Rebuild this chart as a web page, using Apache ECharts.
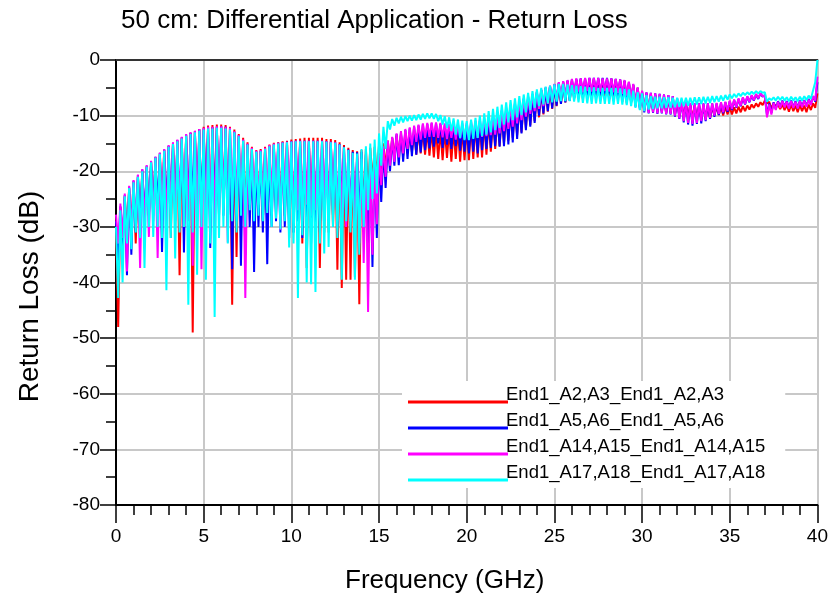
<!DOCTYPE html>
<html>
<head>
<meta charset="utf-8">
<script src="https://cdn.jsdelivr.net/npm/echarts@6/dist/echarts.min.js"></script>
<style>
html,body{margin:0;padding:0;background:#fff;}
#chart{width:831px;height:601px;}
</style>
</head>
<body>
<div id="chart"></div>
<script>
// Frequency sweep of the simulation (GHz): 0 to 40 GHz, step 0.125 GHz
const FREQ_START = 0;
const FREQ_STEP = 0.125;
const FREQ_POINTS = 321;
const xTicks = [0, 5, 10, 15, 20, 25, 30, 35, 40];
const yTicks = [0, -10, -20, -30, -40, -50, -60, -70, -80];

const seriesNames = [
  'End1_A2,A3_End1_A2,A3',
  'End1_A5,A6_End1_A5,A6',
  'End1_A14,A15_End1_A14,A15',
  'End1_A17,A18_End1_A17,A18'
];

// Return loss (dB), one value per sweep point (rows of 2 GHz)
const red = [
-30,-48,-26.5,-34,-24.5,-31,-23,-30,-22,-33,-21,-29,-20,-31,-19.2,-28,
-18.4,-27,-17.6,-30,-16.8,-26,-16.2,-29,-15.5,-32,-15,-27,-14.5,-38.7,-14,-28,
-13.5,-28,-13.1,-49,-12.8,-27,-12.4,-30,-12,-26,-11.8,-29,-11.7,-27,-11.6,-28,
-11.6,-27,-11.7,-30,-12,-44,-12.5,-35.4,-13.3,-28,-14,-30,-14.8,-27,-15.6,-28,
-16.2,-27,-16,-29,-15.6,-26,-15.2,-28,-14.9,-27,-14.8,-29,-14.6,-28,-14.5,-30,
-14.3,-31,-14.2,-29,-14.1,-33,-14,-37.4,-14,-30,-14,-32,-14,-37.4,-14,-31,
-14.2,-31,-14.2,-30,-14.4,-37.7,-14.8,-41,-15.3,-39.5,-15.8,-39.5,-16.2,-39,-16.4,-43.9,
-16.2,-28,-16,-24,-15.8,-22,-15.6,-21,-15.3,-20,-15,-19.5,-14.5,-18.5,-14,-17.5,
-13.6,-17,-13.4,-17.2,-13.2,-16.8,-13,-16.5,-12.9,-17,-12.8,-16.8,-12.7,-17,-12.6,-17.2,
-12.6,-17.5,-12.6,-17.8,-12.6,-18,-12.6,-17.6,-12.6,-18.3,-12.5,-17.8,-12.4,-18.3,-12.3,-18,
-12,-18,-11.8,-17.8,-11.6,-17.5,-11.4,-17.5,-11.2,-17,-11,-16.5,-10.7,-16,-10.4,-15.5,
-9.8,-15,-9.4,-14.5,-9,-14,-8.5,-13.5,-8,-13,-7.5,-12.3,-7,-11.7,-6.5,-11,
-5.8,-10.3,-5.4,-9.8,-5,-9.3,-4.7,-8.8,-4.4,-8.3,-4.2,-7.9,-4,-7.6,-3.8,-7.3,
-3.7,-7,-3.6,-6.8,-3.5,-7,-3.5,-6.8,-3.4,-7,-3.4,-6.8,-3.4,-7,-3.4,-6.9,
-3.4,-7,-3.4,-7.2,-3.5,-7,-3.6,-7.5,-3.8,-7.8,-4,-7.6,-4.5,-8,-5,-8.5,
-5.8,-9,-6,-9.2,-6.2,-9,-6.3,-9.3,-6.5,-9.2,-6.7,-9.5,-6.9,-9.4,-7.1,-9.8,
-7.4,-10,-7.6,-10.3,-7.8,-10.2,-8,-10.5,-8.1,-10.4,-8.2,-10.6,-8.3,-10.4,-8.4,-10.5,
-8.4,-10,-8.4,-9.9,-8.4,-10,-8.4,-9.8,-8.5,-9.8,-8.5,-9.6,-8.4,-9.4,-8.3,-9.2,
-8.2,-8.9,-8,-8.6,-7.8,-8.4,-7.6,-8.1,-7.3,-7.8,-7.5,-8.7,-7.8,-8.3,-8,-8.8,
-8,-9,-8.1,-9.3,-8,-9.2,-8.2,-9.4,-8.1,-9.2,-8.2,-9.4,-8,-9,-7.8,-8.6,
-6
];

const blue = [
-29,-36,-26.3,-33,-24.3,-38.7,-22.8,-35,-21.7,-31,-20.7,-30,-19.7,-29,-19,-28,
-18.2,-28,-17.4,-27,-16.7,-34.5,-16.1,-28,-15.4,-27,-14.9,-29,-14.4,-28,-13.9,-34.6,
-13.4,-28,-13.1,-27,-12.8,-29,-12.5,-28,-12.3,-27,-12.1,-33.8,-12.1,-28,-12,-27,
-11.9,-28,-12,-30,-12.3,-37.6,-12.9,-29,-13.6,-37,-14.4,-35,-15.1,-30,-15.9,-38.1,
-16.4,-30,-16.3,-31,-15.9,-36.7,-15.4,-30,-15.1,-29,-14.9,-31,-14.8,-30,-14.7,-32,
-14.6,-31,-14.5,-29,-14.5,-32,-14.5,-30,-14.5,-33,-14.5,-30,-14.5,-31,-14.5,-29,
-14.6,-29,-14.7,-28,-14.8,-30,-15.1,-27,-15.6,-29,-16.1,-28,-16.5,-30,-16.6,-29,
-16.5,-30,-17,-33,-17.5,-37.2,-17.5,-32,-17,-25.5,-16,-23,-15,-20,-14,-19,
-13.3,-18.9,-13,-18.3,-12.6,-17.8,-12.3,-17.3,-12,-17,-11.8,-16.6,-11.6,-16.2,-11.5,-15.9,
-11.4,-15.6,-11.4,-15,-11.5,-15.8,-11.6,-15.2,-11.8,-16,-11.9,-15.5,-11.9,-16.3,-11.8,-16.5,
-11.7,-16.8,-11.5,-16.5,-11.2,-16.8,-11,-16.2,-10.8,-16,-10.5,-15.8,-10.2,-15.5,-9.8,-15.6,
-9.2,-15.5,-8.8,-15.2,-8.3,-14.8,-7.9,-14.2,-7.5,-13.2,-7,-12.6,-6.6,-12,-6.2,-11.3,
-5.8,-10,-5.4,-9.6,-5,-9.2,-4.7,-8.7,-4.4,-8.2,-4.1,-7.9,-3.9,-7.6,-3.7,-7.3,
-3.5,-6.8,-3.4,-6.5,-3.3,-6.6,-3.3,-6.3,-3.2,-6.4,-3.2,-6.2,-3.2,-6.3,-3.2,-6.1,
-3.2,-6.2,-3.3,-6.3,-3.4,-6.4,-3.5,-6.6,-3.7,-7,-4,-7.6,-4.4,-8.4,-5,-8.9,
-5.6,-9.4,-5.8,-9.6,-5.9,-9.5,-6,-9.7,-6.1,-9.6,-6.2,-9.8,-6.3,-9.8,-6.5,-10.2,
-6.9,-10.6,-7.3,-11.2,-7.6,-11.6,-7.8,-11.8,-7.8,-11.5,-7.8,-11.4,-7.8,-11,-7.8,-10.6,
-7.8,-10.2,-7.8,-9.9,-7.7,-9.6,-7.6,-9.3,-7.4,-9,-7.2,-8.6,-7,-8.3,-6.8,-8,
-6.6,-7.6,-6.4,-7.3,-6.2,-7,-6,-6.6,-6.3,-9.9,-7.8,-9.5,-7.6,-8.8,-7.4,-8.4,
-7.3,-8.4,-7.4,-8.6,-7.3,-8.5,-7.4,-8.6,-7.3,-8.4,-7.2,-8.3,-7,-8,-6.5,-7.5,
-4
];

const magenta = [
-27.8,-33,-25.8,-32,-24,-38,-22.6,-31,-21.6,-30,-20.6,-37.4,-19.6,-30,-18.9,-31.8,
-18.1,-29,-17.4,-35.6,-16.7,-28,-16,-30,-15.3,-28,-14.8,-29,-14.3,-27,-13.8,-30,
-13.3,-29,-13,-37,-12.7,-28,-12.4,-37.6,-12.2,-30,-12,-29,-12,-30,-11.9,-28,
-11.9,-27,-12,-32.8,-12.2,-26,-12.8,-27,-13.5,-25,-14.3,-42.8,-15,-26,-15.8,-25,
-16.3,-26,-16.2,-27,-15.8,-24,-15.3,-25,-15,-23.5,-14.9,-30.5,-14.8,-24,-14.7,-26,
-14.6,-28,-14.5,-27,-14.5,-29,-14.5,-26,-14.5,-28,-14.5,-27,-14.5,-29,-14.5,-26,
-14.6,-28,-14.7,-27,-14.8,-29,-15.2,-28,-15.7,-30,-16.3,-29,-16.9,-31,-17.3,-33,
-17.8,-36.5,-18.5,-45.3,-19,-35,-19,-29.5,-17,-22.5,-15.5,-21,-14.5,-19,-13.8,-18.3,
-13.2,-17.5,-12.8,-16.8,-12.4,-16,-12.1,-15.3,-11.8,-14.7,-11.6,-14.3,-11.4,-14,-11.3,-13.8,
-11.2,-13.8,-11.2,-14,-11.3,-13.9,-11.4,-14.2,-11.5,-14,-11.5,-14.3,-11.5,-14.1,-11.4,-14.2,
-11.3,-14.2,-11.1,-14,-10.9,-14,-10.7,-13.8,-10.5,-13.7,-10.2,-13.5,-9.9,-13.4,-9.5,-13.2,
-9,-12.8,-8.6,-12.4,-8.1,-12,-7.7,-11.4,-7.3,-10.8,-6.9,-10.2,-6.5,-9.7,-6.1,-9.2,
-5.7,-8.8,-5.3,-8.3,-4.9,-7.9,-4.6,-7.5,-4.3,-7.1,-4,-6.7,-3.8,-6.4,-3.6,-6.1,
-3.4,-5.9,-3.3,-5.7,-3.3,-5.8,-3.2,-5.6,-3.2,-5.7,-3.2,-5.6,-3.2,-5.7,-3.3,-5.6,
-3.3,-5.7,-3.3,-5.8,-3.4,-5.9,-3.5,-6.1,-3.6,-6.4,-3.9,-7,-4.3,-7.8,-4.9,-8.6,
-5.5,-9.2,-5.8,-9.5,-5.9,-9.4,-6,-9.6,-6.1,-9.5,-6.2,-9.7,-6.3,-9.7,-6.5,-10,
-6.9,-10.5,-7.3,-11,-7.6,-11.3,-7.7,-11.5,-7.8,-11.3,-7.8,-11,-7.8,-10.8,-7.8,-10.4,
-7.8,-10,-7.7,-9.7,-7.6,-9.4,-7.5,-9.1,-7.3,-8.8,-7.1,-8.5,-6.9,-8.2,-6.7,-7.9,
-6.5,-7.5,-6.3,-7.2,-6.1,-6.9,-6,-6.5,-6.4,-10.3,-8,-9.8,-7.7,-9,-7.5,-8.6,
-7.4,-8.5,-7.5,-8.7,-7.4,-8.6,-7.5,-8.7,-7.4,-8.5,-7.3,-8.4,-7.1,-8.1,-6.5,-7.3,
-3
];

const cyan = [
-30,-42.8,-27,-40,-24.5,-33,-23,-34,-22,-31,-21,-32,-20,-37.4,-19.2,-30,
-18.4,-31.8,-17.6,-30,-16.9,-32,-16.3,-41.4,-15.6,-32,-15.1,-35.7,-14.6,-31,-14.1,-30,
-13.6,-44,-13.3,-31,-13,-38.6,-12.7,-30,-12.5,-39.5,-12.3,-33,-12.3,-46.2,-12.2,-32,
-12.2,-30,-12.3,-33,-12.5,-29,-13,-31,-13.7,-28,-14.5,-30,-15.2,-27,-16,-29,
-16.5,-28,-16.4,-29,-16,-27.5,-15.5,-30,-15.2,-28.5,-15,-30.4,-14.9,-29,-14.8,-33.7,
-14.7,-33,-14.6,-42.8,-14.6,-31.5,-14.6,-40,-14.6,-40.3,-14.6,-41.7,-14.6,-33,-14.6,-34.8,
-14.7,-33.6,-14.8,-30,-14.9,-32,-15.2,-39.5,-15.7,-29,-16.2,-31,-16.7,-39.5,-16.8,-35,
-16,-30,-15.5,-27,-15,-25,-14.3,-24,-13.2,-19,-12,-16,-11,-12.5,-10.6,-11.8,
-10.4,-11.4,-10.2,-11.2,-10.1,-11,-10,-10.9,-9.9,-10.8,-9.8,-10.7,-9.7,-10.6,-9.6,-10.5,
-9.6,-10.6,-9.7,-11,-9.9,-11.6,-10.1,-12.2,-10.3,-12.8,-10.5,-13.4,-10.7,-14,-10.9,-14.4,
-11,-14.4,-10.7,-14.2,-10.4,-14,-10,-13.7,-9.6,-13.4,-9.2,-13,-8.8,-12.6,-8.4,-12.2,
-8,-11.6,-7.6,-11.2,-7.2,-10.8,-6.9,-10.3,-6.5,-9.9,-6.2,-9.4,-5.9,-9,-5.6,-8.6,
-5.3,-8.3,-5,-8,-4.8,-7.8,-4.6,-7.6,-4.4,-7.5,-4.3,-7.4,-4.3,-7.4,-4.4,-7.4,
-4.5,-7.5,-4.6,-7.6,-4.7,-7.7,-4.8,-7.8,-4.9,-7.9,-4.9,-7.8,-5,-7.9,-5,-7.9,
-5,-7.9,-5,-8,-5,-7.9,-5.1,-8,-5.2,-8.1,-5.3,-8.3,-5.5,-8.6,-5.8,-9,
-6,-9.2,-6.3,-8.9,-6.5,-8.8,-6.6,-8.7,-6.6,-8.7,-6.7,-8.6,-6.7,-8.6,-6.8,-8.5,
-6.8,-8.4,-6.8,-8.3,-6.8,-8.2,-6.8,-8.1,-6.7,-8,-6.7,-7.9,-6.6,-7.8,-6.6,-7.7,
-6.5,-7.6,-6.5,-7.5,-6.4,-7.3,-6.3,-7.1,-6.2,-6.9,-6.1,-6.7,-6,-6.5,-5.9,-6.3,
-5.8,-6.2,-5.7,-6.1,-5.6,-6,-5.6,-5.9,-5.8,-7.5,-6.9,-7.2,-6.7,-7.3,-6.6,-7.2,
-6.6,-7.3,-6.7,-7.4,-6.6,-7.3,-6.7,-7.4,-6.6,-7.3,-6.5,-7.2,-6.4,-7,-5.5,-4,
0
];

const seriesValues = [red, blue, magenta, cyan];
const seriesColors = ['#ff0000', '#0000ff', '#ff00ff', '#00ffff'];

const freq = [];
for (let i = 0; i < FREQ_POINTS; i++) freq.push(FREQ_START + i * FREQ_STEP);

const FONT = 'Liberation Sans, Arial, sans-serif';

const chart = echarts.init(document.getElementById('chart'), null, {renderer: 'canvas'});

const series = seriesNames.map((name, k) => ({
  name: name,
  type: 'line',
  xAxisIndex: 0,
  yAxisIndex: 0,
  symbol: 'none',
  showSymbol: false,
  sampling: 'none',
  animation: false,
  lineStyle: {color: seriesColors[k], width: 2},
  itemStyle: {color: seriesColors[k]},
  data: seriesValues[k].slice(0, freq.length).map((v, i) => [freq[i], v])
}));

chart.setOption({
  animation: false,
  backgroundColor: '#ffffff',
  title: {
    text: '50 cm: Differential Application - Return Loss',
    left: 116,
    top: 3,
    textStyle: {fontFamily: FONT, fontSize: 26, fontWeight: 'normal', color: '#000'}
  },
  grid: {left: 116, right: 12, top: 60, bottom: 96, containLabel: false},
  legend: {
    orient: 'vertical',
    left: 402,
    top: 381,
    padding: [4, 20, 6, 6],
    itemWidth: 100,
    itemHeight: 18,
    itemGap: 7,
    // legend swatch: a 3 px line at the bottom of a 100x18 icon box
    icon: 'path://M0,0 M0,15 L100,15 L100,18 L0,18 Z',
    backgroundColor: '#ffffff',
    selectedMode: false,
    data: seriesNames,
    textStyle: {fontFamily: FONT, fontSize: 18.5, color: '#000', padding: [0, 0, 0, -7]}
  },
  xAxis: [{
    type: 'value',
    min: xTicks[0],
    max: xTicks[xTicks.length - 1],
    interval: xTicks[1] - xTicks[0],
    position: 'bottom',
    name: 'Frequency (GHz)',
    nameLocation: 'middle',
    nameGap: 63,
    nameTextStyle: {fontFamily: FONT, fontSize: 26, color: '#000', padding: [0, 44, 0, 0]},
    axisLine: {show: true, onZero: false, lineStyle: {color: '#000', width: 2}},
    axisTick: {show: true, length: 18, lineStyle: {color: '#000', width: 1.5}},
    minorTick: {show: true, splitNumber: 5, length: 10, lineStyle: {color: '#000', width: 1.5}},
    axisLabel: {color: '#000', fontFamily: FONT, fontSize: 19, margin: 22},
    splitLine: {show: true, lineStyle: {color: '#c8c8c8', width: 2}}
  }, {
    type: 'value',
    min: xTicks[0],
    max: xTicks[xTicks.length - 1],
    position: 'top',
    axisLine: {show: true, onZero: false, lineStyle: {color: '#333', width: 2}},
    axisTick: {show: false},
    axisLabel: {show: false},
    splitLine: {show: false}
  }],
  yAxis: {
    type: 'value',
    min: yTicks[yTicks.length - 1],
    max: yTicks[0],
    interval: 10,
    name: 'Return Loss (dB)',
    nameLocation: 'middle',
    nameGap: 72,
    nameRotate: 90,
    nameTextStyle: {fontFamily: FONT, fontSize: 28, color: '#000', padding: [0, 28, 0, 0]},
    axisLine: {show: true, onZero: false, lineStyle: {color: '#000', width: 2}},
    axisTick: {show: true, length: 16, lineStyle: {color: '#000', width: 1.5}},
    minorTick: {show: true, splitNumber: 2, length: 10, lineStyle: {color: '#000', width: 1.5}},
    axisLabel: {color: '#000', fontFamily: FONT, fontSize: 19, margin: 16},
    splitLine: {show: true, lineStyle: {color: '#c8c8c8', width: 2}}
  },
  series: series
});
</script>
</body>
</html>
